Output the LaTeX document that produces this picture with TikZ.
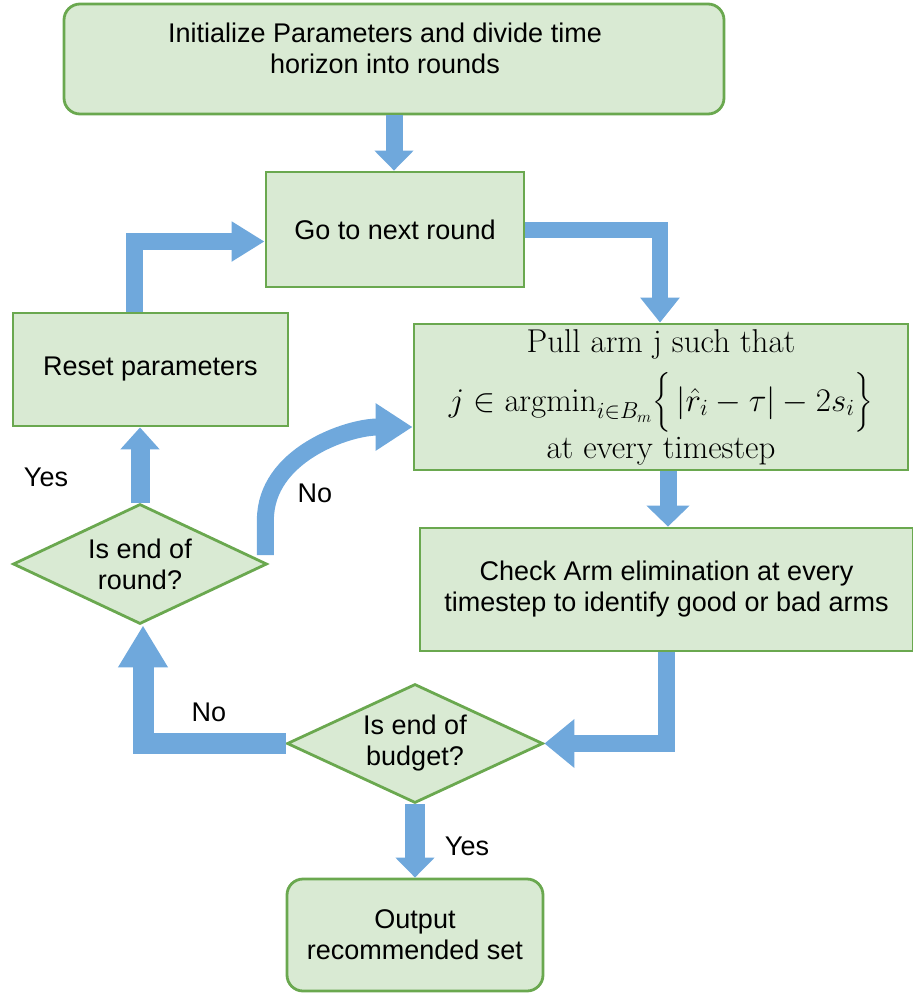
\RequirePackage{fix-cm}
\documentclass[tikz,border=0pt]{standalone}
\usepackage{amsmath}
\usepackage[no-math]{fontspec}
\setsansfont{Liberation Sans}
\usetikzlibrary{arrows.meta,shapes.geometric}
\definecolor{boxgreen}{HTML}{D9EAD3}
\definecolor{edgegreen}{HTML}{6AA84F}
\definecolor{flowblue}{HTML}{6FA8DC}
\tikzset{
  sanstext/.style={font=\sffamily\fontsize{27}{31}\selectfont, align=center},
  box/.style={draw=edgegreen, fill=boxgreen, line width=2.8pt, inner sep=0pt, sanstext},
  roundbox/.style={box, rounded corners=16pt},
  decision/.style={box, diamond, aspect=2.12},
  flow/.style n args={3}{draw=flowblue, line width=#1, line join=miter,
    -{Triangle[width=#2,length=#3]}},
}
\begin{document}
\begin{tikzpicture}[x=1pt,y=-1pt]
\useasboundingbox (0,0) rectangle (913,994);
% nodes
\node[roundbox, minimum width=660, minimum height=110] (init) at (394,59) {};
\node[sanstext] (inittext) at (385,48) {Initialize Parameters and divide time\\horizon into rounds};
\node[box, minimum width=258, minimum height=115] (go) at (395,229.5) {Go to next round};
\node[box, minimum width=275, minimum height=113] (reset) at (150.5,369.5) {Reset parameters};
\node[box, minimum width=494, minimum height=146, font=\rmfamily\fontsize{33}{40}\selectfont] (pull) at (661,397)
  {Pull arm j such that\\[13pt] $\smash[b]{j\in \mathrm{argmin}_{i\in B_m}\Big\{\,|\hat{r}_i-\tau|-2s_i\Big\}}$\\[7pt] at every timestep};
\node[box, minimum width=493, minimum height=123] (check) at (666.5,589.5)
  {Check Arm elimination at every\\timestep to identify good or bad arms};
\node[decision, minimum width=254, minimum height=120] (round) at (140,564) {Is end of\\round?};
\node[decision, minimum width=256, minimum height=119] (budget) at (415,743.5) {Is end of\\budget?};
\node[roundbox, minimum width=256, minimum height=112] (output) at (415,935) {Output\\recommended set};
% labels
\node[sanstext] (yes1) at (46,477) {Yes};
\node[sanstext] (no1) at (315,493) {No};
\node[sanstext] (no2) at (209,712) {No};
\node[sanstext] (yes2) at (467,846) {Yes};
% connectors
\draw[flow={17pt}{38pt}{20pt}] (init.south) -- (init.south |- go.north);
\draw[flow={16pt}{38pt}{25pt}] (go.east) -| ([xshift=-1pt]pull.north);
\draw[flow={17pt}{42pt}{21pt}] ([xshift=7pt]pull.south) -- ([xshift=7pt]pull.south |- check.north);
\draw[flow={17pt}{47pt}{30pt}] (check.south) |- (budget.east);
\draw[flow={21pt}{47pt}{42pt}] (budget.west) -| ([xshift=3pt]round.south);
\draw[flow={19pt}{38pt}{22pt}] (round.north) -- (round.north |- reset.south);
\draw[flow={17pt}{38pt}{33pt}] ([xshift=-16.5pt]reset.north) |- ([yshift=-12pt]go.west);
\draw[flow={17pt}{45pt}{37pt}] ([shift={(-3,-9)}]round.east) -- ++(0,-35)
  .. controls +(0,-65) and +(-65,0) .. ([shift={(0,30)}]pull.west);
\draw[flow={20pt}{38pt}{20pt}] (budget.south) -- (budget.south |- output.north);
\end{tikzpicture}
\end{document}
